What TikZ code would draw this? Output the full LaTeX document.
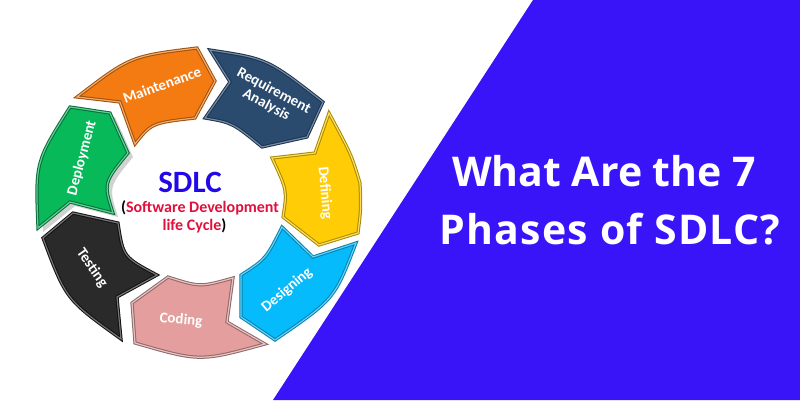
\documentclass[tikz,border=0pt]{standalone}
\usepackage{fontspec}
\setmainfont{Carlito}
\newfontfamily\headfont{Open Sans}
\usetikzlibrary{shadows}
\definecolor{panelblue}{HTML}{3A14F8}
\definecolor{sdlcblue}{HTML}{2208E8}
\definecolor{sdlcred}{HTML}{E0103C}
\definecolor{deployfill}{HTML}{08B95A}
\definecolor{deployedge}{HTML}{0A6B3A}
\definecolor{maintfill}{HTML}{F47B12}
\definecolor{maintedge}{HTML}{9A5210}
\definecolor{reqfill}{HTML}{2A4A6E}
\definecolor{reqedge}{HTML}{1B3350}
\definecolor{deffill}{HTML}{FFCC05}
\definecolor{defedge}{HTML}{A88A05}
\definecolor{desfill}{HTML}{05BBFC}
\definecolor{desedge}{HTML}{0A7FA8}
\definecolor{codefill}{HTML}{E59E9E}
\definecolor{codeedge}{HTML}{8A6A6A}
\definecolor{testfill}{HTML}{2A2A2A}
\definecolor{testedge}{HTML}{111111}
\begin{document}
\begin{tikzpicture}[x=1pt,y=-1pt,
	phase/.style 2 args={fill=#1,draw=#2,line width=1pt,double=#1!65!white,double distance=1.2pt,line join=miter},
	phaselabel/.style={text=white,font=\bfseries\fontsize{15}{16}\selectfont,align=center,inner sep=0pt},
	headline/.style={text=white,font=\headfont\bfseries\fontsize{41}{41}\selectfont,anchor=base,inner sep=0pt},
	sdlcline/.style={font=\bfseries\fontsize{16}{18}\selectfont,anchor=base,inner sep=0pt}]
	\useasboundingbox (0,0) rectangle (800,400);
	% right panel
	\fill[panelblue] (533,0) -- (800,0) -- (800,400) -- (273,400) -- cycle;
	% phases
	\draw[phase={deployfill}{deployedge},drop shadow={shadow xshift=5pt,shadow yshift=-4pt,opacity=.3,fill=black!60}]
		(70,107) -- (110,113) -- (128,153) .. controls (103.5,183) .. (113,213) -- (70,202) -- (38,228) .. controls (35.3,161.8) .. cycle;
	\draw[phase={maintfill}{maintedge}]
		(77,97) .. controls (130.3,56.2) .. (197,48) -- (215,81) -- (195,118) .. controls (151.7,123) .. (135,144) -- (120,102) -- cycle;
	\draw[phase={reqfill}{reqedge}]
		(210,50) .. controls (267.5,58.7) .. (323,102) -- (307,137) -- (262,147) .. controls (232.5,122.8) .. (205,118) -- (230,82) -- cycle;
	\draw[phase={deffill}{defedge}]
		(329,113) .. controls (351.5,154.7) .. (360,183) .. controls (361,209.3) .. (358,233) -- (319,245) -- (283,217) .. controls (287.2,190.5) .. (272,158) -- (315,153) -- cycle;
	\draw[phase={desfill}{desedge}]
		(356,243) .. controls (334.5,299.2) .. (275,340) -- (241,317) -- (241,275) .. controls (265.8,259) .. (282,227) -- (313,257) -- cycle;
	\draw[phase={codefill}{codeedge}]
		(265,344) .. controls (200,361.8) .. (135,343) -- (132,303) -- (168,277) .. controls (200,287.2) .. (233,278) -- (227,322) -- cycle;
	\draw[phase={testfill}{testedge}]
		(121,339) .. controls (66,299.5) .. (43,238) -- (73,213) -- (118,223) .. controls (123.2,257) .. (157,275) -- (117,297) -- cycle;
	% labels
	\node[phaselabel,rotate=20] (maintenance) at (162,85) {Maintenance};
	\node[phaselabel,rotate=-28] (requirement) at (270,98) {Requirement\\Analysis};
	\node[phaselabel,rotate=-85] (defining) at (325,193) {Defining};
	\node[phaselabel,rotate=40] (designing) at (287,290) {Designing};
	\node[phaselabel,rotate=-5] (coding) at (181,320) {Coding};
	\node[phaselabel,rotate=-55] (testing) at (92,268) {Testing};
	\node[phaselabel,rotate=75] (deployment) at (82,158) {Deployment};
	% centre
	\node[text=sdlcblue,font=\bfseries\fontsize{31}{31}\selectfont,anchor=base,inner sep=0pt] (sdlc) at (190,192) {SDLC};
	\node[sdlcline] (sdlcname) at (200,212) {(\textcolor{sdlcred}{Software Development}};
	\node[sdlcline] (sdlcrest) at (194.5,230) {\textcolor{sdlcred}{life Cycle})};
	% title
	\node[headline] (titleone) at (604,186) {What Are the 7};
	\node[headline] (titletwo) at (610,244) {\addfontfeature{LetterSpace=3}Phases of SDLC?};
\end{tikzpicture}
\end{document}
